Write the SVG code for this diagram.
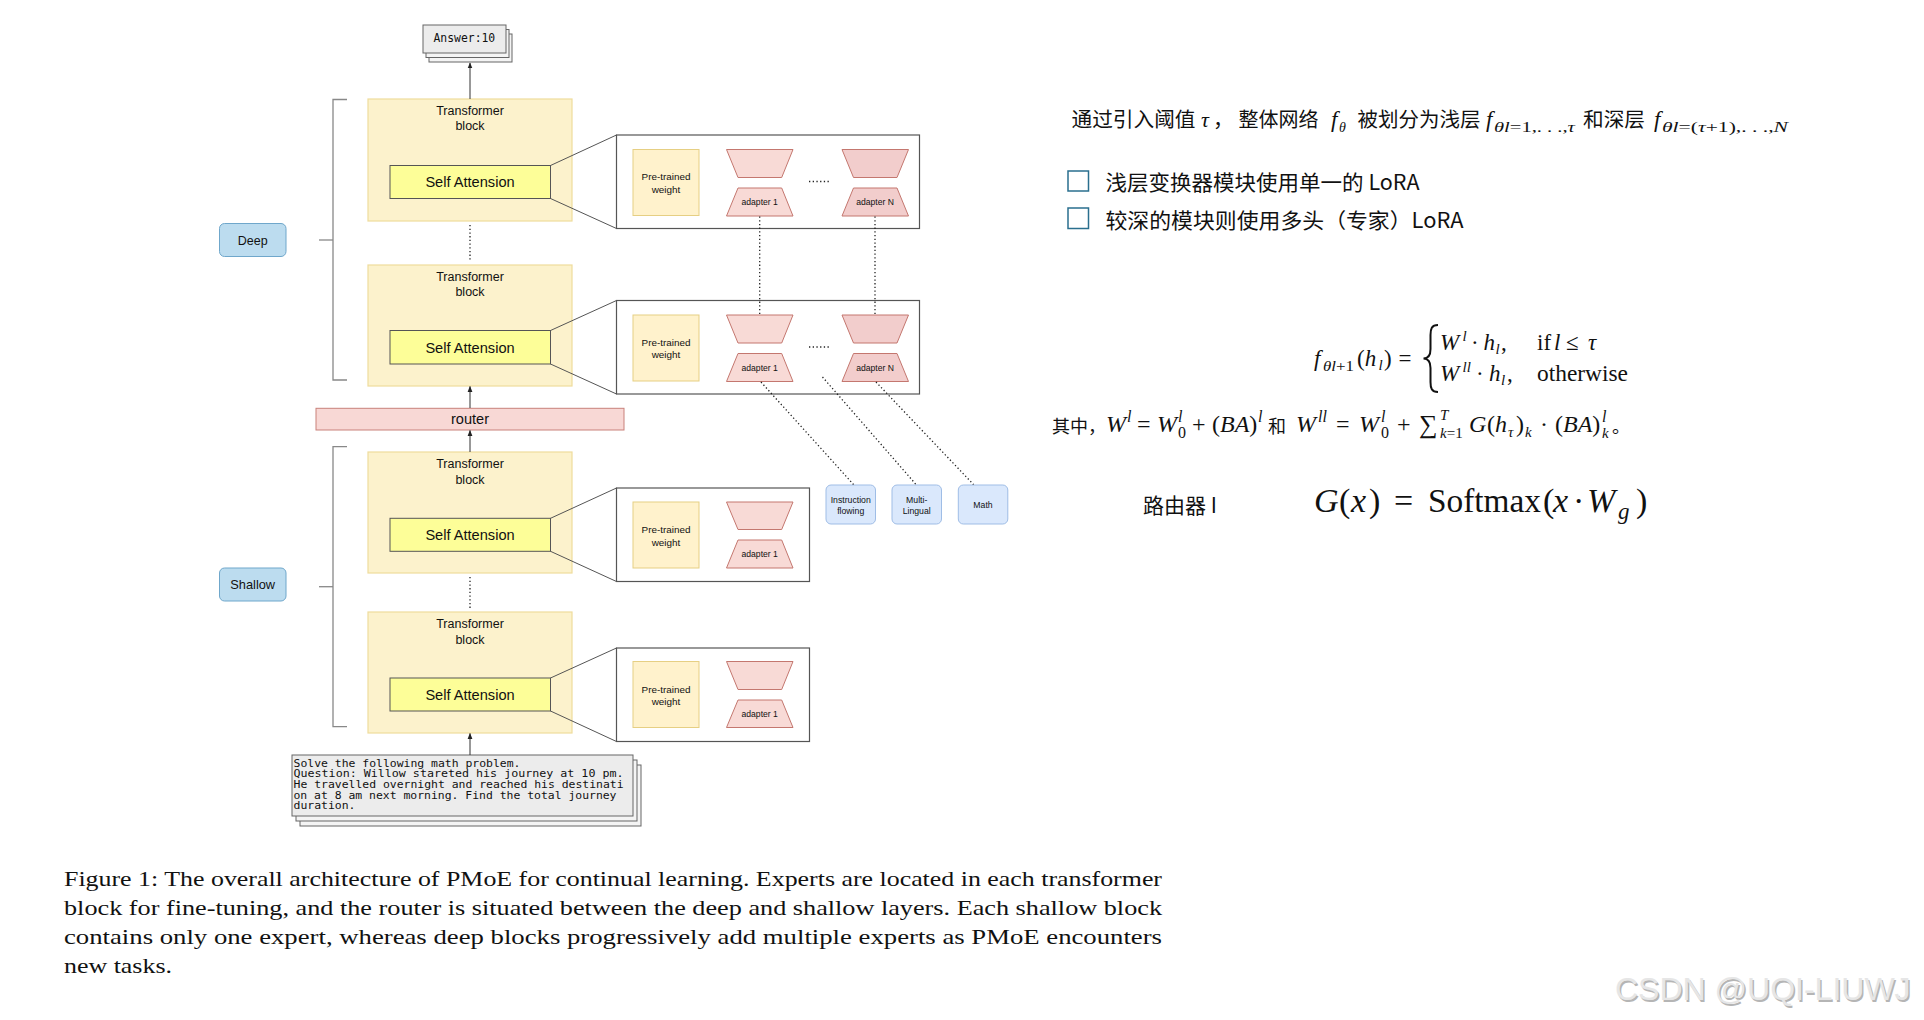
<svg xmlns="http://www.w3.org/2000/svg" width="1924" height="1020" viewBox="0 0 1924 1020">
<defs>
<marker id="ah" viewBox="0 0 10 10" refX="9" refY="5" markerWidth="6" markerHeight="6" orient="auto-start-reverse" markerUnits="userSpaceOnUse">
<path d="M0,1 L10,5 L0,9 Z" fill="#222"/>
</marker>
<style>
.tb{fill:#fcf2cc;stroke:#efdc9c;stroke-width:1.2}
.sa{fill:#fdfe98;stroke:#555;stroke-width:1}
.pt{fill:#fff2cc;stroke:#e6cf83;stroke-width:1}
.pan{fill:#fff;stroke:#555;stroke-width:1.2}
.tr1{fill:#f8dad6;stroke:#c4776f;stroke-width:1}
.trN{fill:#f2cdcc;stroke:#c4776f;stroke-width:1}
.side{fill:#bcdcef;stroke:#6fa7cb;stroke-width:1}
.task{fill:#dae8fc;stroke:#9fbde6;stroke-width:1}
.ln{stroke:#555;stroke-width:1;fill:none}
.br{stroke:#888;stroke-width:1.3;fill:none}
.dot{stroke:#222;stroke-width:1.3;stroke-dasharray:1.3 2.4;fill:none}
.arr{stroke:#333;stroke-width:1;fill:none}
.sans{font-family:"Liberation Sans",Arial,sans-serif;fill:#111}
.mono{font-family:"DejaVu Sans Mono","Liberation Mono",monospace;fill:#111}
.cjk{font-family:"Noto Sans CJK SC","Noto Sans",sans-serif;fill:#111}
.m{font-family:"Liberation Serif","Times New Roman",serif;fill:#111}
.i{font-style:italic}
.cap{font-family:"Liberation Serif","Times New Roman",serif;fill:#111;font-size:21.5px}
.box3{fill:#f4f4f4;stroke:#666;stroke-width:1}
.box3f{fill:#ececec;stroke:#666;stroke-width:1}
</style>
</defs>
<rect width="1924" height="1020" fill="#fff"/>

<!-- answer -->
<g id="answer">
<rect class="box3" x="429" y="34" width="83" height="28"/>
<rect class="box3" x="426" y="29.5" width="83" height="28"/>
<rect class="box3f" x="423" y="25" width="83" height="28"/>
<text class="mono" x="433.5" y="41.5" font-size="11.4">Answer:10</text>
</g>

<!-- deep / shallow labels -->
<g id="deep"><rect class="side" x="219.5" y="223.5" width="66.5" height="33" rx="5"/><text class="sans" x="252.7" y="244.5" font-size="12.5" text-anchor="middle">Deep</text></g>
<g id="shallow"><rect class="side" x="219.5" y="568" width="66.5" height="33" rx="5"/><text class="sans" x="252.7" y="589" font-size="12.8" text-anchor="middle">Shallow</text></g>

<!-- transformer blocks -->
<g id="block1">
<rect class="tb" x="368" y="99" width="204" height="122"/>
<text class="sans" x="470" y="115" font-size="12.5" text-anchor="middle">Transformer</text>
<text class="sans" x="470" y="130" font-size="12.5" text-anchor="middle">block</text>
<rect class="sa" x="390" y="165.5" width="160.5" height="33"/>
<text class="sans" x="470" y="187" font-size="14.6" text-anchor="middle">Self Attension</text>
</g>
<g id="block2">
<rect class="tb" x="368" y="265" width="204" height="121"/>
<text class="sans" x="470" y="281" font-size="12.5" text-anchor="middle">Transformer</text>
<text class="sans" x="470" y="296" font-size="12.5" text-anchor="middle">block</text>
<rect class="sa" x="390" y="330.5" width="160.5" height="33.5"/>
<text class="sans" x="470" y="352.5" font-size="14.6" text-anchor="middle">Self Attension</text>
</g>
<g id="router">
<rect x="316" y="408.3" width="308" height="21.7" fill="#f8d8d5" stroke="#c9817b" stroke-width="1"/>
<text class="sans" x="470" y="424" font-size="14.6" text-anchor="middle">router</text>
</g>
<g id="block3">
<rect class="tb" x="368" y="452" width="204" height="121"/>
<text class="sans" x="470" y="468" font-size="12.5" text-anchor="middle">Transformer</text>
<text class="sans" x="470" y="483.5" font-size="12.5" text-anchor="middle">block</text>
<rect class="sa" x="390" y="518.3" width="160.5" height="33"/>
<text class="sans" x="470" y="540" font-size="14.6" text-anchor="middle">Self Attension</text>
</g>
<g id="block4">
<rect class="tb" x="368" y="612" width="204" height="121"/>
<text class="sans" x="470" y="628" font-size="12.5" text-anchor="middle">Transformer</text>
<text class="sans" x="470" y="643.5" font-size="12.5" text-anchor="middle">block</text>
<rect class="sa" x="390" y="678" width="160.5" height="33"/>
<text class="sans" x="470" y="699.5" font-size="14.6" text-anchor="middle">Self Attension</text>
</g>

<!-- panels -->
<g id="panel1">
<rect class="pan" x="616.5" y="135" width="303" height="93.5"/>
<rect class="pt" x="633" y="149.5" width="66" height="66"/>
<text class="sans" x="666" y="180" font-size="9.9" text-anchor="middle">Pre-trained</text>
<text class="sans" x="666" y="192.5" font-size="9.9" text-anchor="middle">weight</text>
<polygon class="tr1" points="726.5,149.5 793,149.5 781.7,177.5 738,177.5"/>
<polygon class="tr1" points="738,188 781.7,188 793,216 726.5,216"/>
<text class="sans" x="759.7" y="205" font-size="8.6" text-anchor="middle">adapter 1</text>
<polygon class="trN" points="842,149.5 908.5,149.5 897,177.5 853.5,177.5"/>
<polygon class="trN" points="853.5,188 897,188 908.5,216 842,216"/>
<text class="sans" x="875" y="205" font-size="8.6" text-anchor="middle">adapter N</text>
<line class="dot" x1="809" y1="181.5" x2="829" y2="181.5"/>
</g>
<g id="panel2">
<rect class="pan" x="616.5" y="300.5" width="303" height="93.5"/>
<rect class="pt" x="633" y="315" width="66" height="66"/>
<text class="sans" x="666" y="345.5" font-size="9.9" text-anchor="middle">Pre-trained</text>
<text class="sans" x="666" y="358" font-size="9.9" text-anchor="middle">weight</text>
<polygon class="tr1" points="726.5,315 793,315 781.7,343 738,343"/>
<polygon class="tr1" points="738,353.5 781.7,353.5 793,381.5 726.5,381.5"/>
<text class="sans" x="759.7" y="370.5" font-size="8.6" text-anchor="middle">adapter 1</text>
<polygon class="trN" points="842,315 908.5,315 897,343 853.5,343"/>
<polygon class="trN" points="853.5,353.5 897,353.5 908.5,381.5 842,381.5"/>
<text class="sans" x="875" y="370.5" font-size="8.6" text-anchor="middle">adapter N</text>
<line class="dot" x1="809" y1="347" x2="829" y2="347"/>
</g>
<g id="panel3">
<rect class="pan" x="616.5" y="488" width="193" height="93.5"/>
<rect class="pt" x="633" y="502" width="66" height="66"/>
<text class="sans" x="666" y="533" font-size="9.9" text-anchor="middle">Pre-trained</text>
<text class="sans" x="666" y="545.5" font-size="9.9" text-anchor="middle">weight</text>
<polygon class="tr1" points="726.5,502 793,502 781.7,529.5 738,529.5"/>
<polygon class="tr1" points="738,540 781.7,540 793,568 726.5,568"/>
<text class="sans" x="759.7" y="557" font-size="8.6" text-anchor="middle">adapter 1</text>
</g>
<g id="panel4">
<rect class="pan" x="616.5" y="648" width="193" height="93.5"/>
<rect class="pt" x="633" y="661.5" width="66" height="66"/>
<text class="sans" x="666" y="692.5" font-size="9.9" text-anchor="middle">Pre-trained</text>
<text class="sans" x="666" y="705" font-size="9.9" text-anchor="middle">weight</text>
<polygon class="tr1" points="726.5,661.5 793,661.5 781.7,689.5 738,689.5"/>
<polygon class="tr1" points="738,700 781.7,700 793,727.5 726.5,727.5"/>
<text class="sans" x="759.7" y="717" font-size="8.6" text-anchor="middle">adapter 1</text>
</g>

<!-- tasks -->
<g id="task-instruction"><rect class="task" x="826" y="485" width="49.5" height="39" rx="5"/><text class="sans" x="850.7" y="502.5" font-size="8.7" text-anchor="middle">Instruction</text><text class="sans" x="850.7" y="513.5" font-size="8.7" text-anchor="middle">flowing</text></g>
<g id="task-multilingual"><rect class="task" x="892" y="485" width="49.5" height="39" rx="5"/><text class="sans" x="916.7" y="502.5" font-size="8.7" text-anchor="middle">Multi-</text><text class="sans" x="916.7" y="513.5" font-size="8.7" text-anchor="middle">Lingual</text></g>
<g id="task-math"><rect class="task" x="958.3" y="485" width="49.5" height="39" rx="5"/><text class="sans" x="983" y="508" font-size="8.7" text-anchor="middle">Math</text></g>

<!-- input -->
<g id="input">
<rect class="box3" x="300" y="765" width="341" height="61"/>
<rect class="box3" x="296" y="760" width="341" height="61"/>
<rect class="box3f" x="292" y="755" width="341" height="61"/>
<text class="mono" font-size="10" lengthAdjust="spacingAndGlyphs">
<tspan x="293.5" y="766.5" textLength="227" lengthAdjust="spacingAndGlyphs">Solve the following math problem.</tspan>
<tspan x="293.5" y="777.2" textLength="330" lengthAdjust="spacingAndGlyphs">Question: Willow stareted his journey at 10 pm.</tspan>
<tspan x="293.5" y="787.9" textLength="330" lengthAdjust="spacingAndGlyphs">He travelled overnight and reached his destinati</tspan>
<tspan x="293.5" y="798.6" textLength="323" lengthAdjust="spacingAndGlyphs">on at 8 am next morning. Find the total journey</tspan>
<tspan x="293.5" y="809.3" textLength="62" lengthAdjust="spacingAndGlyphs">duration.</tspan>
</text>
</g>

<!-- connectors -->
<g id="connectors">
<line class="arr" x1="470" y1="99" x2="470" y2="63" marker-end="url(#ah)"/>
<line class="arr" x1="470" y1="408" x2="470" y2="386.5" marker-end="url(#ah)"/>
<line class="arr" x1="470" y1="452" x2="470" y2="430.5" marker-end="url(#ah)"/>
<line class="arr" x1="470" y1="755" x2="470" y2="733.5" marker-end="url(#ah)"/>
<line class="dot" x1="470" y1="225" x2="470" y2="261"/>
<line class="dot" x1="470" y1="577" x2="470" y2="608"/>
<line class="dot" x1="759.7" y1="216.5" x2="759.7" y2="314.5"/>
<line class="dot" x1="875" y1="216.5" x2="875" y2="314.5"/>
<line class="dot" x1="761" y1="382" x2="853.5" y2="484.5"/>
<line class="dot" x1="822.5" y1="377" x2="916" y2="484.5"/>
<line class="dot" x1="876" y1="382" x2="973.5" y2="484.5"/>
<polyline class="ln" points="550.5,165.5 616.5,135"/>
<polyline class="ln" points="550.5,198.5 616.5,228.5"/>
<polyline class="ln" points="550.5,330.5 616.5,300.5"/>
<polyline class="ln" points="550.5,364 616.5,394"/>
<polyline class="ln" points="550.5,518.3 616.5,488"/>
<polyline class="ln" points="550.5,551.3 616.5,581.5"/>
<polyline class="ln" points="550.5,678 616.5,648"/>
<polyline class="ln" points="550.5,711 616.5,741.5"/>
<polyline class="br" points="347,99.5 333,99.5 333,380 347,380"/>
<line class="br" x1="319" y1="240" x2="333" y2="240"/>
<polyline class="br" points="347,446.7 333,446.7 333,726.7 347,726.7"/>
<line class="br" x1="319" y1="586.7" x2="333" y2="586.7"/>
</g>

<!-- right-side notes -->
<g id="note-line">
<text class="cjk" x="1071.5" y="127" font-size="20.5" textLength="124" lengthAdjust="spacingAndGlyphs">通过引入阈值</text>
<text class="m i" x="1201" y="127" font-size="22">τ</text>
<text class="cjk" x="1213" y="127" font-size="20.5">，</text>
<text class="cjk" x="1238.5" y="127" font-size="20.5" textLength="80" lengthAdjust="spacingAndGlyphs">整体网络</text>
<text class="m i" x="1331" y="127" font-size="23">f</text>
<text class="m i" x="1339" y="132" font-size="14">θ</text>
<text class="cjk" x="1357.5" y="127" font-size="20.5" textLength="123" lengthAdjust="spacingAndGlyphs">被划分为浅层</text>
<text class="m i" x="1486" y="127" font-size="23">f</text>
<text class="m" x="1494" y="132" font-size="14" textLength="81" lengthAdjust="spacingAndGlyphs"><tspan class="i">θl</tspan>=1,. . .,<tspan class="i">τ</tspan></text>
<text class="cjk" x="1583" y="127" font-size="20.5" textLength="62" lengthAdjust="spacingAndGlyphs">和深层</text>
<text class="m i" x="1654" y="127" font-size="23">f</text>
<text class="m" x="1662" y="132" font-size="14" textLength="126" lengthAdjust="spacingAndGlyphs"><tspan class="i">θl</tspan>=(<tspan class="i">τ</tspan>+1),. . .,<tspan class="i">N</tspan></text>
</g>

<g id="check1">
<rect x="1068" y="171" width="20.5" height="20" fill="#fff" stroke="#2a6f8e" stroke-width="1.5"/>
<text class="cjk" x="1105.5" y="189.5" font-size="21" textLength="314" lengthAdjust="spacingAndGlyphs">浅层变换器模块使用单一的 LoRA</text>
</g>
<g id="check2">
<rect x="1068" y="208" width="20.5" height="20.5" fill="#fff" stroke="#2a6f8e" stroke-width="1.5"/>
<text class="cjk" x="1105.5" y="227.5" font-size="21" textLength="358" lengthAdjust="spacingAndGlyphs">较深的模块则使用多头（专家）LoRA</text>
</g>

<g id="formula-f">
<text class="m i" x="1314" y="366" font-size="23">f</text>
<text class="m" x="1323" y="371" font-size="15" textLength="31" lengthAdjust="spacingAndGlyphs"><tspan class="i">θl</tspan>+1</text>
<text class="m" x="1357" y="366" font-size="23">(<tspan class="i">h</tspan></text>
<text class="m i" x="1378.5" y="370" font-size="15">l</text>
<text class="m" x="1384" y="366" font-size="23">)</text>
<text class="m" x="1398.5" y="366" font-size="23">=</text>
<path d="M1438,325 C1431.5,325 1430.5,329 1430.5,335 L1430.5,349 C1430.5,355 1429,358.5 1423.5,358.5 C1429,358.5 1430.5,362 1430.5,368 L1430.5,382 C1430.5,388 1431.5,392 1438,392" fill="none" stroke="#111" stroke-width="2"/>
<text class="m i" x="1440" y="350" font-size="23">W</text>
<text class="m i" x="1462.5" y="341" font-size="15">l</text>
<text class="m" x="1471" y="350" font-size="23">·</text>
<text class="m i" x="1483.5" y="350" font-size="23">h</text>
<text class="m i" x="1495.5" y="354" font-size="15">l</text>
<text class="m" x="1501" y="350" font-size="23">,</text>
<text class="m" x="1537" y="350" font-size="23">if</text>
<text class="m i" x="1554" y="350" font-size="23">l</text>
<text class="m" x="1566" y="350" font-size="23">≤</text>
<text class="m i" x="1588" y="350" font-size="23">τ</text>
<text class="m i" x="1440" y="381" font-size="23">W</text>
<text class="m i" x="1462.5" y="372" font-size="15">ll</text>
<text class="m" x="1476" y="381" font-size="23">·</text>
<text class="m i" x="1489" y="381" font-size="23">h</text>
<text class="m i" x="1501" y="385" font-size="15">l</text>
<text class="m" x="1507" y="381" font-size="23">,</text>
<text class="m" x="1537" y="381" font-size="23" textLength="91" lengthAdjust="spacingAndGlyphs">otherwise</text>
</g>

<g id="formula-w">
<text class="cjk" x="1052" y="433" font-size="18">其中，</text>
<text class="m i" x="1106" y="432" font-size="24">W</text>
<text class="m i" x="1127" y="422" font-size="16">l</text>
<text class="m" x="1137" y="432" font-size="24">=</text>
<text class="m i" x="1157" y="432" font-size="24">W</text>
<text class="m i" x="1178" y="422" font-size="16">l</text>
<text class="m" x="1178" y="438" font-size="16">0</text>
<text class="m" x="1192" y="432" font-size="24">+</text>
<text class="m" x="1212" y="432" font-size="24">(<tspan class="i">BA</tspan>)</text>
<text class="m i" x="1258" y="422" font-size="16">l</text>
<text class="cjk" x="1268" y="433" font-size="18">和</text>
<text class="m i" x="1296" y="432" font-size="24">W</text>
<text class="m i" x="1318" y="422" font-size="16">ll</text>
<text class="m" x="1336" y="432" font-size="24">=</text>
<text class="m i" x="1359" y="432" font-size="24">W</text>
<text class="m i" x="1381" y="422" font-size="16">l</text>
<text class="m" x="1381" y="438" font-size="16">0</text>
<text class="m" x="1397" y="432" font-size="24">+</text>
<text class="m" x="1419" y="433" font-size="26">∑</text>
<text class="m i" x="1440" y="420" font-size="15">T</text>
<text class="m" x="1440" y="438" font-size="15"><tspan class="i">k</tspan>=1</text>
<text class="m i" x="1469" y="432" font-size="24">G</text>
<text class="m" x="1487" y="432" font-size="24">(<tspan class="i">h</tspan></text>
<text class="m i" x="1508" y="437" font-size="15">τ</text>
<text class="m" x="1516" y="432" font-size="24">)</text>
<text class="m i" x="1525" y="437" font-size="15">k</text>
<text class="m" x="1540" y="432" font-size="24">·</text>
<text class="m" x="1555" y="432" font-size="24">(<tspan class="i">BA</tspan>)</text>
<text class="m i" x="1602" y="422" font-size="16">l</text>
<text class="m i" x="1602" y="438" font-size="15">k</text>
<text class="cjk" x="1612" y="433" font-size="18">。</text>
</g>

<g id="formula-router">
<text class="cjk" x="1143" y="513" font-size="21">路由器 I</text>
<text class="m i" x="1314" y="512" font-size="34">G</text>
<text class="m" x="1339" y="512" font-size="34">(</text>
<text class="m i" x="1351" y="512" font-size="34">x</text>
<text class="m" x="1369" y="512" font-size="34">)</text>
<text class="m" x="1394" y="512" font-size="34">=</text>
<text class="m" x="1428" y="512" font-size="34" textLength="113" lengthAdjust="spacingAndGlyphs">Softmax</text>
<text class="m" x="1543" y="512" font-size="34">(</text>
<text class="m i" x="1553" y="512" font-size="34">x</text>
<text class="m" x="1573" y="512" font-size="34">·</text>
<text class="m i" x="1587" y="512" font-size="34">W</text>
<text class="m i" x="1618" y="519" font-size="23">g</text>
<text class="m" x="1636" y="512" font-size="34">)</text>
</g>

<g id="caption">
<text class="cap" x="64" y="886" textLength="1098" lengthAdjust="spacingAndGlyphs">Figure 1: The overall architecture of PMoE for continual learning. Experts are located in each transformer</text>
<text class="cap" x="64" y="915" textLength="1098" lengthAdjust="spacingAndGlyphs">block for fine-tuning, and the router is situated between the deep and shallow layers. Each shallow block</text>
<text class="cap" x="64" y="944" textLength="1098" lengthAdjust="spacingAndGlyphs">contains only one expert, whereas deep blocks progressively add multiple experts as PMoE encounters</text>
<text class="cap" x="64" y="973" textLength="108" lengthAdjust="spacingAndGlyphs">new tasks.</text>
</g>

<g id="watermark">
<text x="1616.5" y="1001.5" font-family="Liberation Sans,Arial,sans-serif" font-size="32" fill="#b5b5b5">CSDN @UQI-LIUWJ</text>
<text x="1615" y="1000" font-family="Liberation Sans,Arial,sans-serif" font-size="32" fill="#e6e6e6">CSDN @UQI-LIUWJ</text>
</g>
</svg>
